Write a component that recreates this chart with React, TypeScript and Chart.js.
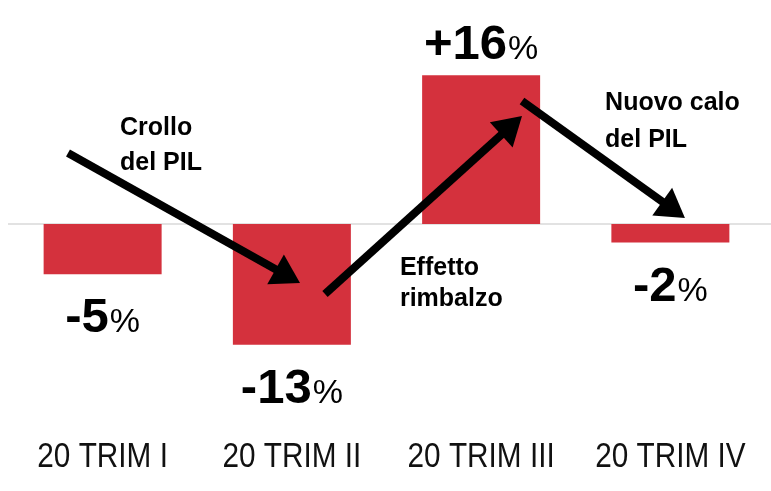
import React, { useEffect, useRef } from "react";
import { Chart, registerables } from "chart.js";

Chart.register(...registerables);

// ---- data ----
const categories = ["20 TRIM I", "20 TRIM II", "20 TRIM III", "20 TRIM IV"];
const gdpChange = [-5.4, -13, 16, -2];
const valueLabels = ["-5", "-13", "+16", "-2"];

// ---- annotations (in data coordinates: category index, value) ----
const arrowStarts = [[-0.183, 7.64], [1.175, -7.53], [2.216, 13.24]];
const arrowEnds = [[1.043, -6.35], [2.216, 11.62], [3.077, 0.65]];
const noteTexts = [["Crollo", "del PIL"], ["Effetto", "rimbalzo"], ["Nuovo calo", "del PIL"]];
const notePositions = [[0.092, 9.58], [1.571, -5.49], [2.655, 12.27]];
const noteLineGaps = [35, 31, 37];

const BAR_COLOR = "#D4313D";
const SANS = "'Liberation Sans', Arial, sans-serif";

const overlayPlugin = {
  id: "overlay",
  beforeDatasetsDraw(chart: any) {
    const { ctx, chartArea, scales } = chart;
    const y0 = scales.y.getPixelForValue(0);
    ctx.save();
    ctx.strokeStyle = "#d9d9d9";
    ctx.lineWidth = 1.5;
    ctx.beginPath();
    ctx.moveTo(chartArea.left, y0);
    ctx.lineTo(chart.width, y0);
    ctx.stroke();
    ctx.restore();
  },
  afterDatasetsDraw(chart: any) {
    const { ctx, scales } = chart;
    const xs = scales.x;
    const ys = scales.y;
    const px = (i: number) => {
      const a = xs.getPixelForValue(0);
      const b = xs.getPixelForValue(1);
      return a + (b - a) * i;
    };
    ctx.save();

    // arrows
    ctx.fillStyle = "#000";
    ctx.strokeStyle = "#000";
    arrowStarts.forEach((s, k) => {
      const e = arrowEnds[k];
      const x1 = px(s[0]), y1 = ys.getPixelForValue(s[1]);
      const x2 = px(e[0]), y2 = ys.getPixelForValue(e[1]);
      const dx = x2 - x1, dy = y2 - y1;
      const len = Math.hypot(dx, dy);
      const ux = dx / len, uy = dy / len;
      const headLen = 28, headHalf = 17;
      const bx = x2 - ux * headLen, by = y2 - uy * headLen;
      ctx.lineWidth = 8;
      ctx.lineCap = "butt";
      ctx.beginPath();
      ctx.moveTo(x1, y1);
      ctx.lineTo(bx + ux * 2, by + uy * 2);
      ctx.stroke();
      ctx.beginPath();
      ctx.moveTo(x2, y2);
      ctx.lineTo(bx - uy * headHalf, by + ux * headHalf);
      ctx.lineTo(bx + uy * headHalf, by - ux * headHalf);
      ctx.closePath();
      ctx.fill();
    });

    // notes
    ctx.font = `bold 25px ${SANS}`;
    ctx.textAlign = "left";
    ctx.textBaseline = "alphabetic";
    noteTexts.forEach((lines, k) => {
      const x = px(notePositions[k][0]);
      const y = ys.getPixelForValue(notePositions[k][1]);
      lines.forEach((t, j) => ctx.fillText(t, x, y + j * noteLineGaps[k]));
    });

    // value labels
    const meta = chart.getDatasetMeta(0);
    meta.data.forEach((bar: any, i: number) => {
      const v = gdpChange[i];
      const num = valueLabels[i];
      const numFont = `bold 49px ${SANS}`;
      const pctFont = `34px ${SANS}`;
      ctx.font = numFont;
      const wNum = ctx.measureText(num).width;
      ctx.font = pctFont;
      const wPct = ctx.measureText("%").width;
      const total = wNum + 1 + wPct;
      const left = bar.x - total / 2;
      const baseY = v >= 0 ? bar.y - 16 : bar.y + 58;
      ctx.textAlign = "left";
      ctx.font = numFont;
      ctx.fillText(num, left, baseY);
      ctx.font = pctFont;
      ctx.fillText("%", left + wNum + 1, baseY);
    });

    // category labels (condensed)
    ctx.font = `35px ${SANS}`;
    ctx.fillStyle = "#111";
    ctx.textAlign = "center";
    categories.forEach((c, i) => {
      const x = xs.getPixelForValue(i);
      ctx.save();
      ctx.translate(x, 467);
      ctx.scale(0.85, 1);
      ctx.fillText(c, 0, 0);
      ctx.restore();
    });

    ctx.restore();
  },
};

export default function App() {
  const ref = useRef<HTMLCanvasElement>(null);
  useEffect(() => {
    if (!ref.current) return;
    const chart = new Chart(ref.current, {
      type: "bar",
      data: {
        labels: categories,
        datasets: [
          {
            data: gdpChange,
            backgroundColor: BAR_COLOR,
            borderWidth: 0,
            categoryPercentage: 1,
            barPercentage: 0.6235,
          },
        ],
      },
      options: {
        responsive: false,
        animation: false,
        layout: { padding: { left: 8, right: 6, top: 1, bottom: 44 } },
        plugins: { legend: { display: false }, tooltip: { enabled: false } },
        scales: {
          x: { display: false },
          y: { display: false, min: -24, max: 24 },
        },
      },
      plugins: [overlayPlugin],
    });
    return () => chart.destroy();
  }, []);
  return (
    <div style={{ position: "absolute", left: 0, top: 0, width: 771, height: 491, background: "#fff" }}>
      <canvas ref={ref} width={771} height={491} />
    </div>
  );
}
